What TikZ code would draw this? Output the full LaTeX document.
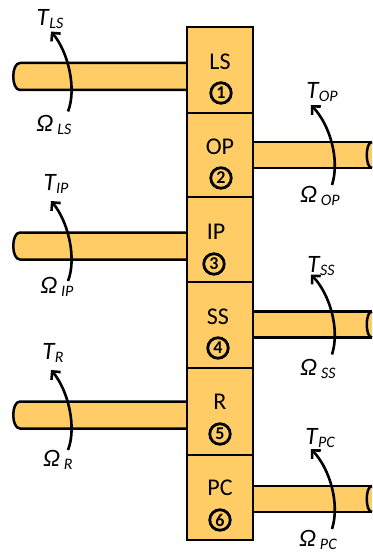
\documentclass[tikz,border=0pt]{standalone}
\usepackage{fontspec}
\setmainfont{Carlito}
\usetikzlibrary{arrows.meta}
\definecolor{gold}{RGB}{255,204,102}
\newcommand{\Tl}[1]{\itshape T\kern0.5pt\raisebox{-3.5pt}{\fontsize{16}{16}\selectfont #1}}
\newcommand{\Ol}[1]{\itshape Ω\kern4pt\raisebox{-3.5pt}{\fontsize{16}{16}\selectfont #1}}
\begin{document}
\begin{tikzpicture}[x=1pt,y=-1pt,line width=2.5pt,
  box/.style={draw,fill=gold,minimum width=66pt,inner sep=0pt,outer sep=0pt},
  boxtext/.style={font=\fontsize{24}{24}\selectfont},
  numtext/.style={circle,draw,line width=2.8pt,inner sep=0pt,minimum size=20.5pt,font=\fontsize{18}{18}\selectfont\bfseries},
  lab/.style={font=\fontsize{25}{25}\selectfont,inner sep=0pt},
  arr/.style={-{Straight Barb[length=6pt,width=12pt,line width=2.6pt]},line width=2.6pt}]
\useasboundingbox (0,0) rectangle (372,553);
% left shafts
\foreach \c in {76.5,246,415}{
  \filldraw[fill=gold] (195,\c-13.5) -- (20,\c-13.5) .. controls (11,\c-13.5) and (11,\c+13.5) .. (20,\c+13.5) -- (195,\c+13.5);
}
% right shafts
\foreach \c in {155,324.5,499}{
  \fill[gold] (245,\c-13) rectangle (372,\c+13);
  \draw (245,\c-13) -- (372,\c-13);
  \draw (245,\c+13) -- (372,\c+13);
  \draw (372,\c-13) .. controls (365,\c-13) and (365,\c+13) .. (372,\c+13);
}
% boxes
\node[box,minimum height=86pt] (LS) at (220,70) {};
\node[box,minimum height=84pt] (OP) at (220,155) {};
\node[box,minimum height=85pt] (IP) at (220,239.5) {};
\node[box,minimum height=86pt] (SS) at (220,325) {};
\node[box,minimum height=87pt] (R) at (220,411.5) {};
\node[box,minimum height=85pt] (PC) at (220,497.5) {};
% texts
\node[boxtext] (nLS) at (220,62) {LS};   \node[numtext] (cLS) at (221,93) {1};
\node[boxtext] (nOP) at (220,147) {OP};  \node[numtext] (cOP) at (221,178) {2};
\node[boxtext] (nIP) at (216,232) {IP};  \node[numtext] (cIP) at (214,264) {3};
\node[boxtext] (nSS) at (218,317) {SS};  \node[numtext] (cSS) at (218,348) {4};
\node[boxtext] (nR) at (220,402) {R};    \node[numtext] (cR) at (220,434) {5};
\node[boxtext] (nPC) at (220,488) {PC};  \node[numtext] (cPC) at (220,520) {6};
% left torque arrows
\foreach \n/\c in {LS/76.5,IP/246,R/415}{
  \coordinate (t\n) at (68,\c+35);
  \coordinate (h\n) at (51,\c-45);
  \draw[arr] (t\n) .. controls (77,\c+12) and (68,\c-25) .. (h\n);
}
\node[lab] (TLS) at (50,19) {\Tl{LS}};
\node[lab] (OLS) at (54,125) {\Ol{LS}};
\node[lab] (TIP) at (56,184) {\Tl{IP}};
\node[lab] (OIP) at (57,287) {\Ol{IP}};
\node[lab] (TR) at (53,353) {\Tl{R}};
\node[lab] (OR) at (58,460) {\Ol{R}};
% right torque arrows
\foreach \n/\c in {OP/155,SS/324.5,PC/499}{
  \coordinate (t\n) at (332,\c+30);
  \coordinate (h\n) at (311,\c-50);
  \draw[arr] (t\n) .. controls (340,\c+5) and (330,\c-30) .. (h\n);
}
\node[lab] (TOP) at (322,92) {\Tl{OP}};
\node[lab] (OOP) at (320,196) {\Ol{OP}};
\node[lab] (TSS) at (321,266) {\Tl{SS}};
\node[lab] (OSS) at (318,369) {\Ol{SS}};
\node[lab] (TPC) at (320,438) {\Tl{PC}};
\node[lab] (OPC) at (318,540) {\Ol{PC}};
\end{tikzpicture}
\end{document}
